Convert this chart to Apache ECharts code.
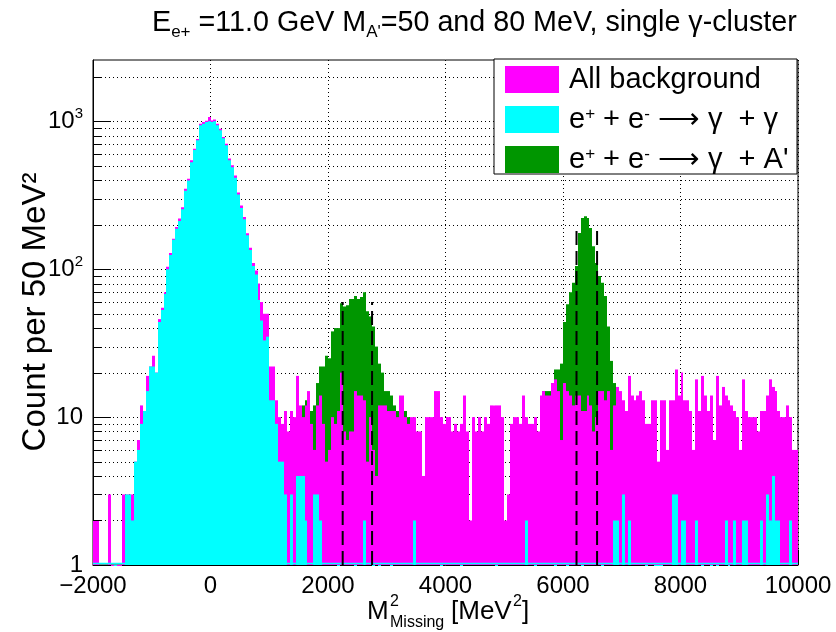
<!DOCTYPE html>
<html><head><meta charset="utf-8">
<script src="https://cdn.jsdelivr.net/npm/echarts@6/dist/echarts.min.js"></script>
<style>html,body{margin:0;padding:0;background:#fff}#c{width:836px;height:632px}</style>
</head><body><div id="c"></div>
<script>
// ---- histogram binning ----
const binStart = -2000;
const binWidth = 50;

// ---- All background (magenta), 240 bins of 50 MeV^2 from -2000 to 10000 ----
const allBackground = [
  2,2,1,1,1,3,1,1,1,1,
  3,3,3,3,5,7,12,11,19,22,
  26,20,46,55,70,104,129,161,193,220,
  263,350,409,545,653,760,964,990,1010,1070,
  1015,1030,965,890,785,705,560,504,430,330,
  270,226,175,140,110,98,80,60,50,50,
  22,22,13,10,9,11,8,11,10,19,
  12,10,12,15,9,6,12,14,9,5,
  6,10,9,11,20,8,7,8,8,15,
  14,14,13,5,10,6,4,12,12,12,
  11,11,11,10,14,14,10,9,10,10,
  8,8,4,10,10,10,15,15,10,9,
  10,10,8,9,8,9,14,8,2,10,
  8,10,8,10,9,12,12,12,12,10,
  2,3,9,10,10,9,14,10,9,9,
  10,8,14,15,14,14,17,18,15,7,
  17,15,14,12,14,14,11,11,14,12,
  8,10,15,15,13,15,6,12,16,15,
  13,11,19,14,13,14,15,13,9,9,
  13,13,5,13,13,6,13,13,21,14,
  20,13,13,11,6,18,11,19,14,11,
  14,7,19,12,16,14,13,12,11,10,
  6,18,11,10,10,10,8,11,11,14,
  18,16,15,11,10,10,12,10,6,6
];

// ---- e+ e- -> gamma gamma (cyan) ----
const gammaGamma = [
  0,0,0,0,0,0,0,1,0,0,
  0,3,3,2,5,6,9,11,15,22,
  22,20,44,53,68,100,125,158,188,212,
  255,340,398,530,640,745,940,965,990,1000,
  990,1000,940,870,770,690,545,490,415,320,
  260,218,170,135,105,92,62,45,33,35,
  13,13,9,5,5,3,0,3,0,4,
  4,4,2,0,0,3,3,2,0,0,
  0,0,0,1,0,0,0,0,0,1,
  0,0,2,0,0,1,0,1,0,0,
  0,1,0,0,0,0,0,0,0,2,
  0,0,0,0,0,0,0,0,1,0,
  0,0,0,0,0,1,0,0,0,0,
  0,0,0,0,0,0,0,1,0,0,
  0,0,0,0,0,0,0,2,0,0,
  1,0,0,0,0,0,0,1,0,0,
  0,1,0,0,0,0,1,0,0,0,
  0,0,0,1,0,0,0,2,2,0,
  3,0,2,0,0,0,0,0,1,0,
  0,1,1,1,0,0,0,3,3,0,
  2,2,0,0,0,2,0,1,0,0,
  1,0,1,0,0,2,1,0,2,0,
  0,2,2,0,0,0,0,2,0,3,
  2,4,2,2,0,0,0,2,0,0
];

// ---- e+ e- -> gamma A' (green), only visible bins filled ----
const aPrime = [
  0,0,0,0,0,0,0,0,0,0, 0,0,0,0,0,0,0,0,0,0,
  0,0,0,0,0,0,0,0,0,0, 0,0,0,0,0,0,0,0,0,0,
  0,0,0,0,0,0,0,0,0,0, 0,0,0,0,0,0,0,0,0,0,
  0,0,0,0,0,0,0,0,0,0,
  0,12,13,13,11,12,17,22,22,26,
  25,38,40,40,59,56,57,63,63,66,
  63,65,70,52,48,41,30,23,20,15,
  15,14,12,11,13,13,11,10,0,0,
  0,0,0,0,0,0,0,0,0,0, 0,0,0,0,0,0,0,0,0,0,
  0,0,0,0,0,0,0,0,0,0, 0,0,0,0,0,0,0,0,0,0,
  0,0,0,15,15,15,17,21,21,23,
  44,58,70,81,105,176,222,228,222,190,
  143,110,90,81,66,41,24,17,0,0,
  0,0,0,0,0,0,0,0,0,0, 0,0,0,0,0,0,0,0,0,0,
  0,0,0,0,0,0,0,0,0,0, 0,0,0,0,0,0,0,0,0,0,
  0,0,0,0,0,0,0,0,0,0, 0,0,0,0,0,0,0,0,0,0
];

// ---- axes / annotations ----
const xTicks = [-2000, 0, 2000, 4000, 6000, 8000, 10000];
const yMax = 2600;
const yGridValues = [2,3,4,5,6,7,8,9,10,20,30,40,50,60,70,80,90,100,200,300,400,500,600,700,800,900,1000,2000];
const windowLines = [[2250, 60], [2750, 60], [6230, 195], [6580, 195]];
const seriesNames = ['All background', 'e+ + e- \u2192 \u03b3 + \u03b3', "e+ + e- \u2192 \u03b3 + A'"];
const legendLabels = ['All background', 'e{sup|+} + e{sup|-} \u27f6 \u03b3  + \u03b3', "e{sup|+} + e{sup|-} \u27f6 \u03b3  + A'"];

const FONT = '"Liberation Sans", Arial, Helvetica, sans-serif';
const xMin = xTicks[0], xMax = xTicks[xTicks.length - 1];

const chart = echarts.init(document.getElementById('c'), null, {renderer: 'canvas', width: 836, height: 632});

function isDecade(v) { const l = Math.log10(v); return Math.abs(l - Math.round(l)) < 1e-6; }

// histogram drawn as bins [left edge, count] through the chart's own scales
function histSeries(name, values, color) {
  const data = [];
  values.forEach((v, i) => { if (v > 0) data.push([binStart + binWidth * i, v]); });
  return {
    type: 'custom', name: name, silent: true, z: 2,
    itemStyle: {color: color},
    data: data, encode: {x: 0, y: 1},
    renderItem: (params, api) => {
      const x0 = api.value(0), v = api.value(1);
      const top = api.coord([x0, v]);
      const bot = api.coord([x0 + binWidth, 1]);
      const l = Math.round(top[0]), r = Math.round(bot[0]);
      return {type: 'rect', shape: {x: l, y: top[1], width: Math.max(r - l, 1), height: Math.max(bot[1] - top[1], 1)},
              style: {fill: color}};
    }
  };
}

const option = {
  animation: false,
  backgroundColor: '#fff',
  textStyle: {fontFamily: FONT},
  title: {
    text: 'E{sub|e+} =11.0 GeV M{sub|A\'}=50 and 80 MeV, single \u03b3-cluster',
    left: 152, top: 5, padding: 0,
    textStyle: {fontSize: 28.7, fontWeight: 'normal', color: '#000', fontFamily: FONT, lineHeight: 36,
      rich: {sub: {fontSize: 17, lineHeight: 17, verticalAlign: 'bottom', fontFamily: FONT, color: '#000'}}}
  },
  grid: {left: 93, right: 38, top: 60, bottom: 67, show: true, borderColor: '#000', borderWidth: 1,
    backgroundColor: 'transparent', containLabel: false, outerBoundsMode: 'none'},
  legend: {
    orient: 'vertical', left: 505, top: 65, itemWidth: 54, itemHeight: 27, itemGap: 11,
    icon: 'rect', data: seriesNames, selectedMode: false, padding: 0,
    formatter: name => legendLabels[seriesNames.indexOf(name)],
    textStyle: {fontSize: 29, color: '#000', fontFamily: FONT, lineHeight: 27, padding: [0, 0, 0, 5],
      rich: {sup: {fontSize: 17, lineHeight: 12, verticalAlign: 'top', color: '#000', fontFamily: FONT}}}
  },
  xAxis: {
    type: 'value', min: xMin, max: xMax, interval: 2000,
    axisLine: {show: true, onZero: false, lineStyle: {color: '#000', width: 1}},
    axisTick: {show: true, inside: true, length: 15, lineStyle: {color: '#000', width: 1}},
    minorTick: {show: true, splitNumber: 4, length: 8, lineStyle: {color: '#000', width: 1}},
    splitLine: {show: true, lineStyle: {color: '#000', type: [1, 3], width: 1}},
    axisLabel: {fontSize: 24, color: '#000', margin: 9, fontFamily: FONT, showMinLabel: true, showMaxLabel: true,
      formatter: v => (v < 0 ? '\u2212' + Math.abs(v) : String(v))}
  },
  yAxis: {
    type: 'log', logBase: 10, min: 1, max: yMax,
    axisLine: {show: true, onZero: false, lineStyle: {color: '#000', width: 1}},
    axisTick: {show: false}, splitLine: {show: false}, minorTick: {show: false},
    axisLabel: {fontSize: 24, color: '#000', margin: 10, fontFamily: FONT, lineHeight: 30,
      formatter: v => {
        if (!isDecade(v)) return '';
        const e = Math.round(Math.log10(v));
        if (e === 0) return '1';
        if (e === 1) return '10';
        return '10{sup|' + e + '}';
      },
      rich: {sup: {fontSize: 15, lineHeight: 14, verticalAlign: 'top', color: '#000', fontFamily: FONT}}}
  },
  graphic: [
    {type: 'rect', z: 3, shape: {x: 494, y: 59, width: 303, height: 115},
     style: {fill: '#fff', stroke: '#000', lineWidth: 1}},
    {type: 'text', x: 36, y: 312, rotation: Math.PI / 2,
     style: {text: 'Count per 50 MeV\u00b2', fontSize: 33, fontFamily: FONT, fill: '#000', align: 'center', verticalAlign: 'middle'}},
    {type: 'group', x: 367, y: 612, children: [
      {type: 'text', x: 0, y: 0, style: {text: 'M', fontSize: 26, fontFamily: FONT, fill: '#000', verticalAlign: 'middle'}},
      {type: 'text', x: 23, y: -10, style: {text: '2', fontSize: 16, fontFamily: FONT, fill: '#000', verticalAlign: 'middle'}},
      {type: 'text', x: 23, y: 11, style: {text: 'Missing', fontSize: 16, fontFamily: FONT, fill: '#000', verticalAlign: 'middle'}},
      {type: 'text', x: 84, y: 0, style: {text: '[MeV', fontSize: 26, fontFamily: FONT, fill: '#000', verticalAlign: 'middle'}},
      {type: 'text', x: 146, y: -10, style: {text: '2', fontSize: 16, fontFamily: FONT, fill: '#000', verticalAlign: 'middle'}},
      {type: 'text', x: 155, y: 0, style: {text: ']', fontSize: 26, fontFamily: FONT, fill: '#000', verticalAlign: 'middle'}}
    ]}
  ],
  series: [
    {type: 'custom', name: 'ygrid', silent: true, z: 1, data: yGridValues.map(v => [xMin, v]),
     encode: {x: 0, y: 1},
     renderItem: (params, api) => {
       const v = api.value(1);
       const a = api.coord([xMin, v]);
       const b = api.coord([xMax, v]);
       const y = Math.round(a[1]) + 0.5;
       return {type: 'line', shape: {x1: a[0], y1: y, x2: b[0], y2: y},
               style: {stroke: '#000', lineWidth: 1, lineDash: [1, 3]}};
     }},
    histSeries(seriesNames[2], aPrime, '#009600'),
    histSeries(seriesNames[0], allBackground, '#ff00ff'),
    histSeries(seriesNames[1], gammaGamma, '#00ffff'),
    {type: 'custom', name: 'emptyline', silent: true, z: 3, data: [[xMin, 1]], encode: {x: 0, y: 1},
     renderItem: (params, api) => {
       const a = api.coord([xMin, 1]), b = api.coord([xMax, 1]);
       return {type: 'line', shape: {x1: a[0], y1: a[1] - 1.5, x2: b[0], y2: b[1] - 1.5},
               style: {stroke: '#00ffff', lineWidth: 1.5}};
     }},
    {type: 'custom', name: 'windows', silent: true, z: 4, data: windowLines, encode: {x: 0, y: 1},
     renderItem: (params, api) => {
       const x = api.value(0), top = api.value(1);
       const a = api.coord([x, 1]), b = api.coord([x, top]);
       return {type: 'line', shape: {x1: a[0], y1: a[1], x2: b[0], y2: b[1]},
               style: {stroke: '#000', lineWidth: 2, lineDash: [14, 6]}};
     }},
    {type: 'custom', name: 'yticks', silent: true, z: 5, data: [1].concat(yGridValues).map(v => [xMin, v]),
     encode: {x: 0, y: 1},
     renderItem: (params, api) => {
       const v = api.value(1);
       const a = api.coord([xMin, v]);
       const y = Math.round(a[1]) + 0.5;
       const len = isDecade(v) ? 18 : 9;
       return {type: 'line', shape: {x1: a[0], y1: y, x2: a[0] + len, y2: y},
               style: {stroke: '#000', lineWidth: 1}};
     }}
  ]
};
chart.setOption(option);
</script>
</body></html>
